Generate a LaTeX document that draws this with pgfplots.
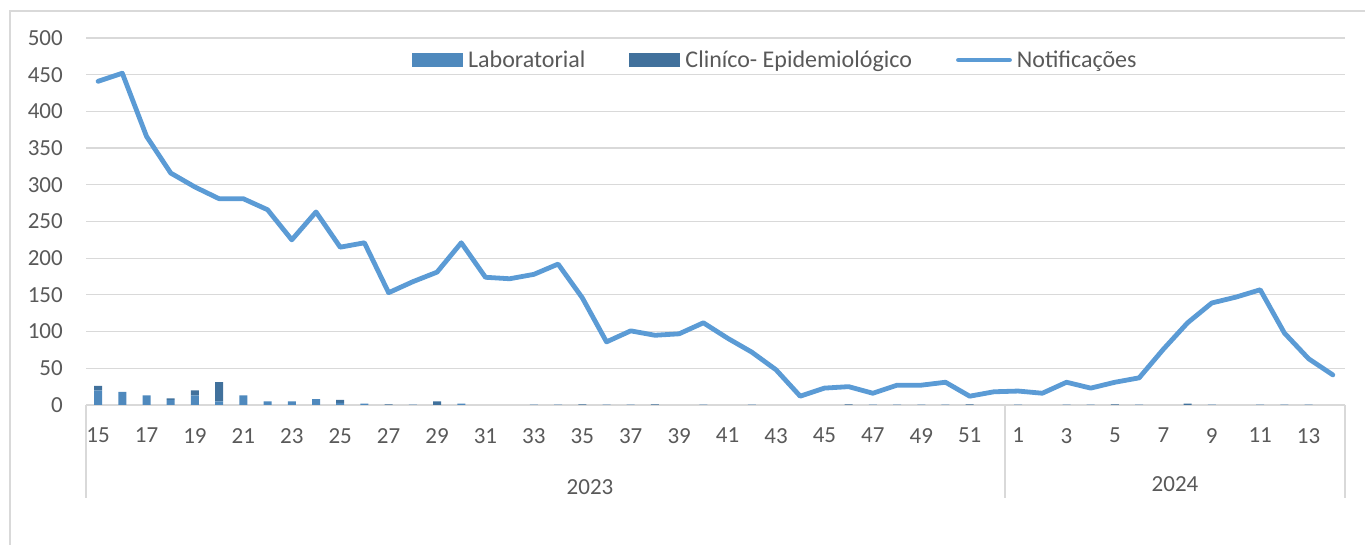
\documentclass[border=0pt]{standalone}
\usepackage{fontspec}
\setmainfont{Carlito}
\usepackage{pgfplots}
\usepackage{pgfplotstable}
\pgfplotsset{compat=1.18}
\definecolor{labc}{HTML}{4F89BD}
\definecolor{clic}{HTML}{41719C}
\definecolor{linec}{HTML}{5B9BD5}
\definecolor{gridc}{HTML}{D9D9D9}
\definecolor{txtc}{HTML}{595959}
\newcommand{\cf}{\fontsize{23bp}{27bp}\selectfont}
\newcommand{\lf}{\fontsize{24bp}{28bp}\selectfont}

\pgfplotstableread{
x lab cli
0 20 6
1 18 0
2 13 0
3 7 2
4 13 7
5 5 26
6 13 0
7 5 0
8 5 0
9 8 0
10 3 4
11 2 0
12 0 1
13 0.5 0
14 0 5
15 2 0
16 0 0
17 0 0
18 0.4 0
19 0.4 0
20 0 1
21 0.4 0
22 0.4 0
23 0 1
24 0 0
25 0.4 0
26 0 0
27 0.4 0
28 0 0
29 0 0
30 0 0
31 0 1
32 0.4 0
33 0.4 0
34 0.4 0
35 0.4 0
36 0 1
37 0 0
38 0.4 0
39 0 0
40 0.4 0
41 0.4 0
42 0 1
43 0.4 0
44 0 0
45 0 2
46 0.4 0
47 0 0
48 0.4 0
49 0.4 0
50 0.4 0
51 0 0
}\bars

\pgfplotstableread{
x n
0 441
1 452
2 366
3 316
4 297
5 281
6 281
7 266
8 225
9 263
10 215
11 221
12 153
13 168
14 181
15 221
16 174
17 172
18 178
19 192
20 146
21 86
22 101
23 95
24 97
25 112
26 91
27 72
28 48
29 12
30 23
31 25
32 16
33 27
34 27
35 31
36 12
37 18
38 19
39 16
40 31
41 23
42 31
43 37
44 76
45 112
46 139
47 147
48 157
49 98
50 63
51 41
}\notif

\pgfplotsset{
  base/.style={
    at={(86bp,140bp)}, anchor=south west, scale only axis,
    width=1259bp, height=367bp,
    xmin=-0.5, xmax=51.5, ymin=0, ymax=500,
  },
  labbar/.style={fill=labc, draw=none,
    legend image code/.code={\fill[labc] (0bp,-7bp) rectangle (51bp,7bp);}},
  clibar/.style={fill=clic, draw=none,
    legend image code/.code={\fill[clic] (0bp,-7bp) rectangle (51bp,7bp);}},
}

\begin{document}
\begin{tikzpicture}
\useasboundingbox (0,0) rectangle (1365bp,545bp);
\draw[gridc, line width=1.2bp] (10bp,0bp) -- (10bp,534bp) -- (1366bp,534bp);
\begin{axis}[base,
  ybar stacked, bar width=8bp,
  axis line style={draw=none},
  major tick length=0pt,
  ytick={0,50,...,500},
  ymajorgrids, grid style={gridc, line width=1.2bp},
  xtick={0,2,...,50},
  xticklabels={15,17,19,21,23,25,27,29,31,33,35,37,39,41,43,45,47,49,51,1,3,5,7,9,11,13},
  /pgf/number format/assume math mode=true,
  tick label style={font=\cf, text=txtc, inner sep=0pt},
  yticklabel style={anchor=east, xshift=-23bp},
  xticklabel style={anchor=north, yshift=-23bp},
]
\addplot[labbar] table[x=x,y=lab]{\bars};
\addplot[clibar] table[x=x,y=cli]{\bars};
\end{axis}
\begin{axis}[base, hide axis,
  legend columns=3,
  legend style={at={(0.2589,0.940)}, anchor=west, draw=none, fill=none,
    inner sep=0pt, font=\lf, text=txtc,
    nodes={inner sep=0pt},
    /tikz/every odd column/.append style={column sep=5bp},
    /tikz/every even column/.append style={column sep=44bp}},
]
\addlegendimage{labbar}
\addlegendentry{Laboratorial}
\addlegendimage{clibar}
\addlegendentry{Clin\'ico- Epidemiol\'ogico}
\addplot[linec, line width=4.8bp, line join=round, line cap=round,
  legend image code/.code={\draw[linec, line width=4.8bp, line cap=round] (2bp,0bp) -- (53bp,0bp);}]
  table[x=x,y=n]{\notif};
\addlegendentry{Notificações}
\end{axis}
\draw[gridc, line width=1.2bp] (86bp,140bp) -- (86bp,47bp);
\draw[gridc, line width=1.2bp] (1005bp,140bp) -- (1005bp,47bp);
\draw[gridc, line width=1.2bp] (1345bp,140bp) -- (1345bp,47bp);
\node[text=txtc, font=\cf, inner sep=0pt] at (590bp,58bp) {2023};
\node[text=txtc, font=\cf, inner sep=0pt] at (1175bp,61bp) {2024};
\end{tikzpicture}
\end{document}
